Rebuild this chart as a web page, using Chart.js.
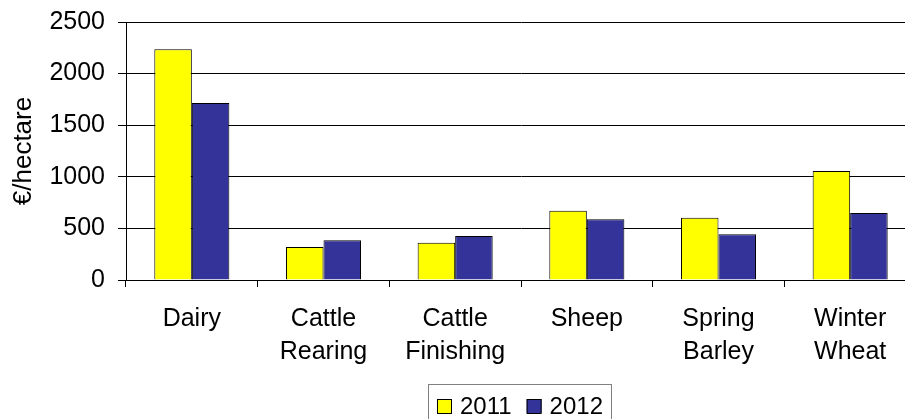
<!DOCTYPE html>
<html>
<head>
<meta charset="utf-8">
<script src="https://cdn.jsdelivr.net/npm/chart.js@4/dist/chart.umd.min.js"></script>
<style>
  html, body { margin: 0; padding: 0; background: #fff; overflow: hidden; }
  #wrap { width: 905px; height: 419px; overflow: hidden; }
</style>
</head>
<body>
<div id="wrap">
  <canvas id="myChart" width="940" height="419"></canvas>
</div>
<script>
// Данные графика
const categories = ["Dairy", ["Cattle", "Rearing"], ["Cattle", "Finishing"], "Sheep", ["Spring", "Barley"], ["Winter", "Wheat"]];
const seriesNames = ["2011", "2012"];
const values2011 = [2235, 320, 362, 672, 604, 1056];
const values2012 = [1715, 385, 426, 588, 443, 649];
const yMax = 2500;
const yStep = 500;
const yTitle = "€/hectare";

const fontFamily = "'Liberation Sans', Arial, sans-serif";

// Легенда в рамке под осью X
const boxedLegend = {
  id: "boxedLegend",
  afterDraw(chart) {
    const c = chart.ctx;
    const area = chart.chartArea;
    const size = 24;
    const marker = 15;
    const gap = 8;
    c.save();
    c.font = size + "px " + fontFamily;
    const items = chart.data.datasets.map(function (ds) {
      return { text: ds.label, color: ds.backgroundColor, w: c.measureText(ds.label).width };
    });
    let width = 8;
    items.forEach(function (it, i) {
      width += marker + gap + it.w + (i < items.length - 1 ? 15 : 9);
    });
    const left = Math.round((area.left + area.right) / 2 - width / 2) - 1.5;
    const top = area.bottom + 104.5;
    c.strokeStyle = "#808080";
    c.lineWidth = 1;
    c.strokeRect(left, top, Math.round(width), 44);
    let x = Math.round(left + 8);
    const mid = top + 22;
    items.forEach(function (it) {
      c.fillStyle = it.color;
      c.fillRect(x, mid - 7.5, marker, marker - 1);
      c.strokeStyle = "#000";
      c.strokeRect(x + 0.5, mid - 7, marker - 1, marker - 1);
      x += marker + gap;
      c.fillStyle = "#000";
      c.textBaseline = "middle";
      c.fillText(it.text, x, mid + 1);
      x += it.w + 15;
    });
    c.restore();
  },
};

const ctx = document.getElementById("myChart");

new Chart(ctx, {
  type: "bar",
  data: {
    labels: categories,
    datasets: [
      {
        label: seriesNames[0],
        data: values2011,
        backgroundColor: "#ffff00",
        borderColor: "#000",
        borderWidth: 1,
      },
      {
        label: seriesNames[1],
        data: values2012,
        backgroundColor: "#333399",
        borderColor: "#000",
        borderWidth: 1,
      },
    ],
  },
  options: {
    responsive: false,
    animation: false,
    devicePixelRatio: 1,
    layout: { padding: { top: 22, right: 24, left: 0, bottom: 0 } },
    datasets: {
      bar: { categoryPercentage: 0.57, barPercentage: 1.0 },
    },
    plugins: {
      legend: { display: false },
      tooltip: { enabled: false },
    },
    scales: {
      x: {
        grid: {
          offset: true,
          drawOnChartArea: false,
          color: "#000",
          tickLength: 7,
        },
        border: { color: "#000", width: 1 },
        ticks: {
          color: "#000",
          padding: 16,
          maxRotation: 0,
          autoSkip: false,
          font: { family: fontFamily, size: 25, lineHeight: 1.3 },
        },
        afterFit(scale) {
          scale.height = 139;
        },
      },
      y: {
        min: 0,
        max: yMax,
        ticks: {
          stepSize: yStep,
          color: "#000",
          padding: 13,
          font: { family: fontFamily, size: 25 },
          callback: function (value) {
            return String(value);
          },
        },
        grid: { color: "#000", tickLength: 8 },
        border: { color: "#000", width: 1 },
        title: {
          display: true,
          text: yTitle,
          color: "#000",
          padding: { top: 8, bottom: 0 },
          font: { family: fontFamily, size: 26, lineHeight: 1.2 },
        },
        afterFit(scale) {
          scale.width = 126;
          scale.paddingTop = 0;
          scale.paddingBottom = 0;
        },
      },
    },
  },
  plugins: [boxedLegend],
});
</script>
</body>
</html>
